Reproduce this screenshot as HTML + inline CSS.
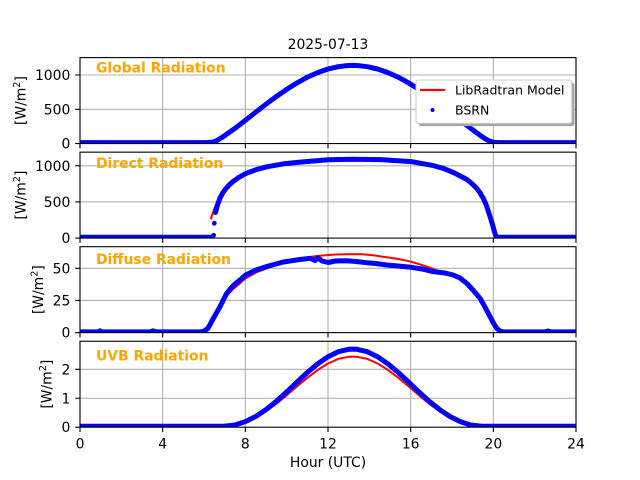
<!DOCTYPE html>
<html>
<head>
<meta charset="utf-8">
<style>
  html, body { margin:0; padding:0; background:#ffffff; }
  svg { display:block; }
  text { font-family: "DejaVu Sans", "Liberation Sans", sans-serif; }
</style>
</head>
<body>
<svg width="640" height="480" viewBox="0 0 640 480" xmlns="http://www.w3.org/2000/svg">
  <rect x="0" y="0" width="640" height="480" fill="#ffffff"/>
  <defs>
    <clipPath id="c1"><rect x="80" y="57.6" width="496" height="85.95"/></clipPath>
    <clipPath id="c2"><rect x="80" y="152.15" width="496" height="85.95"/></clipPath>
    <clipPath id="c3"><rect x="80" y="246.7" width="496" height="85.95"/></clipPath>
    <clipPath id="c4"><rect x="80" y="341.25" width="496" height="85.95"/></clipPath>
  </defs>

  <!-- Title -->
  <text x="328" y="49" font-size="13.9" text-anchor="middle" fill="#000">2025-07-13</text>

  <!-- ================= GRID ================= -->
  <g stroke="#b0b0b0" stroke-width="1.1" fill="none">
    <path d="M162.67,57.6V143.55 M245.33,57.6V143.55 M328,57.6V143.55 M410.67,57.6V143.55 M493.33,57.6V143.55"/>
    <path d="M162.67,152.15V238.1 M245.33,152.15V238.1 M328,152.15V238.1 M410.67,152.15V238.1 M493.33,152.15V238.1"/>
    <path d="M162.67,246.7V332.65 M245.33,246.7V332.65 M328,246.7V332.65 M410.67,246.7V332.65 M493.33,246.7V332.65"/>
    <path d="M162.67,341.25V427.2 M245.33,341.25V427.2 M328,341.25V427.2 M410.67,341.25V427.2 M493.33,341.25V427.2"/>
    <path d="M80,109.28H576 M80,75H576"/>
    <path d="M80,201.96H576 M80,165.8H576"/>
    <path d="M80,300.48H576 M80,268.3H576"/>
    <path d="M80,398.26H576 M80,369.32H576"/>
  </g>

  <!-- ================= AXIS 1: GLOBAL ================= -->
  <g clip-path="url(#c1)" fill="none" stroke-linejoin="round" stroke-linecap="round">
    <path stroke="#ff0000" stroke-width="2" d="M80,143.2 L206,143.2 L212.3,142.6 L216.4,140.6 L224.7,135.6 L235,128.3 L245.3,120.4 L255.7,112.2 L266,104.2 L276.3,96.5 L286.7,89.4 L297,82.9 L307.3,77.2 L317.7,72.6 L328,69.0 L338.3,66.7 L352.8,65.4 L367.3,66.7 L377.6,69.0 L387.9,72.6 L398.3,77.2 L408.6,82.9 L418.9,89.4 L429.3,96.5 L439.6,104.2 L449.9,112.2 L460.3,120.4 L470.6,128.3 L480.9,135.9 L489.2,141.2 L493.3,142.6 L499,143.2 L576,143.2"/>
    <path stroke="#0000ff" stroke-width="5" d="M80,142.6 L206,142.6 L209,142.4 L212.3,142.1 L214.5,141.6 L216.4,140.9 L220,138.6 L224.7,135.6 L235,128.3 L245.3,120.4 L255.7,112.2 L266,104.2 L276.3,96.5 L286.7,89.4 L297,82.9 L307.3,77.2 L317.7,72.6 L328,69.0 L338.3,66.7 L345,65.8 L352.8,65.4 L360,65.8 L367.3,66.7 L377.6,69.0 L387.9,72.6 L398.3,77.2 L408.6,82.9 L418.9,89.4 L429.3,96.5 L439.6,104.2 L449.9,112.2 L460.3,120.4 L470.6,128.3 L480.9,135.9 L485.5,138.9 L489.2,141.0 L493.3,142.2 L499,142.6 L576,142.6"/>
  </g>

  <!-- ================= AXIS 2: DIRECT ================= -->
  <g clip-path="url(#c2)" fill="none" stroke-linejoin="round" stroke-linecap="round">
    <path stroke="#ff0000" stroke-width="2" d="M211,218.5 L213,212.5 L215,207 L217.5,201 L220,196 L223,191.5 L226,187.7 L229.5,184 L233.3,180.9 L239,177 L245.7,173.3 L256,169.6 L266.7,166.8 L283,163.9 L300,162.1 L328.3,159.8 L351.7,159.3 L380,159.6 L411,161.6 L433.3,165.6 L443,168.3 L450,171.1 L455,173.3 L460,175.9 L466.7,179.4 L471,182.8 L474,185.6 L476.7,188.4 L480,192.8 L483.3,198.4 L486,204.5 L488.3,211.2 L490.5,218 L492.7,225.1 L494,230 L495.3,235 L497,238.1"/>
    <path stroke="#0000ff" stroke-width="5" d="M80,237.3 L212,237.3"/>
    <path stroke="#0000ff" stroke-width="5" d="M215.5,212.5 L217.5,205 L220,198 L223,192.5 L226,188.5 L229.5,184.6 L233.3,181.3 L239,177.3 L245.7,173.5 L256,169.7 L266.7,166.8 L283,163.9 L300,162.1 L328.3,159.8 L351.7,159.3 L380,159.6 L411,161.6 L433.3,165.6 L443,168.3 L450,171.1 L455,173.3 L460,175.9 L466.7,179.4 L471,182.8 L474,185.6 L476.7,188.4 L480,192.8 L483.3,198.4 L486,204.5 L488.3,211.2 L490.5,218 L492.7,225.1 L494,230 L495.3,234.5 L496.5,236.6 L498,237.3 L576,237.3"/>
    <circle cx="213.6" cy="235.3" r="2.4" fill="#0000ff" stroke="none"/>
    <circle cx="214.3" cy="223.3" r="2.4" fill="#0000ff" stroke="none"/>
  </g>

  <!-- ================= AXIS 3: DIFFUSE ================= -->
  <g clip-path="url(#c3)" fill="none" stroke-linejoin="round" stroke-linecap="round">
    <path stroke="#ff0000" stroke-width="2" d="M200,332.4 L206,331.2 L213.3,319.5 L220,308.5 L226.7,296 L233.3,289 L245.7,278.3 L256,272.5 L266.7,268.5 L283.3,262.3 L300,258.5 L316.7,256 L333,254.6 L350,254.1 L362,254.3 L373.3,255.3 L386.7,257.3 L400,259.3 L411,261.7 L425,266 L440,271.5 L450,274.5 L460,278.5 L468,285 L476.7,293.3 L483,303 L490,315 L496.7,327.3 L502,332.4"/>
    <path stroke="#0000ff" stroke-width="5" d="M80,331.9 L98,331.9 L100,330.8 L102,331.9 L150,331.9 L153,330.8 L156,331.9 L200,331.9 L204,331.2 L208,328.3 L213.3,318.5 L220,306.7 L226.7,293.3 L233.3,285.5 L245.7,275 L256,270 L266.7,266.5 L283.3,262 L300,259.5 L310,258.3 L315,260.5 L318,257.8 L322,261 L328.3,262.5 L335,261 L346.7,260.7 L356,261.5 L366.7,262.7 L376,263.5 L386.7,265 L398,266 L411,267.3 L422,269 L433.3,271.7 L445,273 L453.3,275 L460,278 L466.7,283.3 L473,290 L480,298.3 L485,307 L490,316.7 L494,324 L496.7,328.3 L500,331 L503.3,331.9 L545,331.9 L548,331 L551,331.9 L576,331.9"/>
  </g>

  <!-- ================= AXIS 4: UVB ================= -->
  <g clip-path="url(#c4)" fill="none" stroke-linejoin="round" stroke-linecap="round">
    <path stroke="#ff0000" stroke-width="2" d="M80,427 L215,427 L224.7,426.75 L235,425.2 L245.3,422.1 L255.7,417.5 L266,411.3 L276.3,403.8 L286.7,395.3 L297,386.4 L307.3,377.8 L317.7,369.9 L328,363.5 L338.3,358.9 L348.7,356.8 L352.8,356.6 L356.9,356.8 L367.3,358.9 L377.6,363.5 L387.9,369.9 L398.3,377.8 L408.6,386.4 L418.9,395.3 L429.3,403.8 L439.6,411.3 L449.9,417.5 L460.3,422.1 L470.6,425.2 L480.9,426.75 L490,427 L576,427"/>
    <path stroke="#0000ff" stroke-width="5" d="M80,426.3 L215,426.3 L224.7,426.1 L235,425 L245.3,421.6 L255.7,416.5 L266,409.6 L276.3,401.3 L286.7,391.9 L297,382.1 L307.3,372.5 L317.7,363.8 L328,356.7 L338.3,351.7 L348.7,349.3 L352.8,349.1 L356.9,349.3 L367.3,351.7 L377.6,356.7 L387.9,363.8 L398.3,372.5 L408.6,382.1 L418.9,391.9 L429.3,401.3 L439.6,409.6 L449.9,416.5 L460.3,421.6 L470.6,425 L480.9,426.1 L490,426.3 L576,426.3"/>
  </g>

  <!-- ================= SPINES ================= -->
  <g fill="none" stroke="#000" stroke-width="1.1">
    <rect x="80" y="57.6" width="496" height="85.95"/>
    <rect x="80" y="152.15" width="496" height="85.95"/>
    <rect x="80" y="246.7" width="496" height="85.95"/>
    <rect x="80" y="341.25" width="496" height="85.95"/>
  </g>

  <!-- ================= TICKS ================= -->
  <g stroke="#000" stroke-width="1.1" fill="none">
    <path d="M80,143.55v4.86 M162.67,143.55v4.86 M245.33,143.55v4.86 M328,143.55v4.86 M410.67,143.55v4.86 M493.33,143.55v4.86 M576,143.55v4.86"/>
    <path d="M80,238.1v4.86 M162.67,238.1v4.86 M245.33,238.1v4.86 M328,238.1v4.86 M410.67,238.1v4.86 M493.33,238.1v4.86 M576,238.1v4.86"/>
    <path d="M80,332.65v4.86 M162.67,332.65v4.86 M245.33,332.65v4.86 M328,332.65v4.86 M410.67,332.65v4.86 M493.33,332.65v4.86 M576,332.65v4.86"/>
    <path d="M80,427.2v4.86 M162.67,427.2v4.86 M245.33,427.2v4.86 M328,427.2v4.86 M410.67,427.2v4.86 M493.33,427.2v4.86 M576,427.2v4.86"/>
    <path d="M75.14,143.55H80 M75.14,109.28H80 M75.14,75H80"/>
    <path d="M75.14,238.1H80 M75.14,201.96H80 M75.14,165.8H80"/>
    <path d="M75.14,332.65H80 M75.14,300.48H80 M75.14,268.3H80"/>
    <path d="M75.14,427.2H80 M75.14,398.26H80 M75.14,369.32H80"/>
  </g>

  <!-- y tick labels -->
  <g font-size="13.9" fill="#000" text-anchor="end">
    <text x="70.3" y="148.6">0</text>
    <text x="70.3" y="114.3">500</text>
    <text x="70.3" y="80">1000</text>

    <text x="70.3" y="243.1">0</text>
    <text x="70.3" y="207">500</text>
    <text x="70.3" y="170.8">1000</text>

    <text x="70.3" y="337.7">0</text>
    <text x="70.3" y="305.5">25</text>
    <text x="70.3" y="273.3">50</text>

    <text x="70.3" y="432.2">0</text>
    <text x="70.3" y="403.3">1</text>
    <text x="70.3" y="374.3">2</text>
  </g>

  <!-- x tick labels -->
  <g font-size="13.9" fill="#000" text-anchor="middle">
    <text x="80" y="448.5">0</text>
    <text x="162.67" y="448.5">4</text>
    <text x="245.33" y="448.5">8</text>
    <text x="328" y="448.5">12</text>
    <text x="410.67" y="448.5">16</text>
    <text x="493.33" y="448.5">20</text>
    <text x="576" y="448.5">24</text>
  </g>

  <!-- x label -->
  <text x="328" y="467" font-size="13.9" text-anchor="middle" fill="#000">Hour (UTC)</text>

  <!-- y labels -->
  <g font-size="13.9" fill="#000" text-anchor="middle">
    <text transform="translate(25.5,100.6) rotate(-90)">[W/m<tspan font-size="9.7" dy="-5.5">2</tspan><tspan dy="5.5">]</tspan></text>
    <text transform="translate(25.5,195.1) rotate(-90)">[W/m<tspan font-size="9.7" dy="-5.5">2</tspan><tspan dy="5.5">]</tspan></text>
    <text transform="translate(43,289.7) rotate(-90)">[W/m<tspan font-size="9.7" dy="-5.5">2</tspan><tspan dy="5.5">]</tspan></text>
    <text transform="translate(51.5,384.2) rotate(-90)">[W/m<tspan font-size="9.7" dy="-5.5">2</tspan><tspan dy="5.5">]</tspan></text>
  </g>

  <!-- panel labels -->
  <g font-size="13.9" font-weight="bold" fill="#ffa500">
    <text x="96" y="72.3">Global Radiation</text>
    <text x="96" y="168.2">Direct Radiation</text>
    <text x="96" y="264.2">Diffuse Radiation</text>
    <text x="96" y="360.3">UVB Radiation</text>
  </g>

  <!-- ================= LEGEND ================= -->
  <rect x="418.8" y="82.8" width="155.7" height="43.3" rx="2.5" ry="2.5" fill="#a6a6a6"/>
  <rect x="416" y="80" width="155.7" height="43.3" rx="2.5" ry="2.5" fill="#ffffff" stroke="#cccccc" stroke-width="1.1"/>
  <line x1="420" y1="90" x2="445" y2="90" stroke="#ff0000" stroke-width="2.2"/>
  <circle cx="432.5" cy="110" r="2" fill="#0000ff"/>
  <g font-size="12.5" fill="#000">
    <text x="455" y="94.5">LibRadtran Model</text>
    <text x="455" y="114.5">BSRN</text>
  </g>
</svg>
</body>
</html>
